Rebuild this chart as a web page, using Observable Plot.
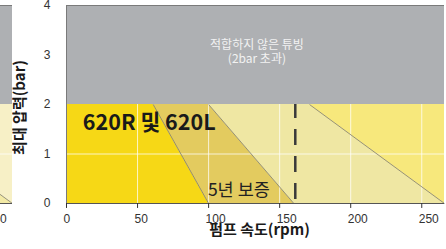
<!DOCTYPE html>
<html>
<head>
<meta charset="utf-8">
<script src="https://cdn.jsdelivr.net/npm/d3@7"></script>
<script src="https://cdn.jsdelivr.net/npm/@observablehq/plot@0.6"></script>
<style>
  html, body { margin: 0; padding: 0; background: #fff; }
  #wrap { position: relative; width: 446px; height: 249px; overflow: hidden; }
  #main { position: absolute; left: 0; top: 0; }
  #frag { position: absolute; left: 0; top: 0; width: 12px; height: 249px; overflow: hidden; }
  #frag svg { margin-left: -432px; max-width: none !important; width: 446px !important; height: 249px !important; }
</style>
</head>
<body>
<div id="wrap"><div id="main"></div><div id="frag"></div></div>
<script>
// ---- data ----
const xTicks = [0, 50, 100, 150, 200, 250];
const yTicks = [0, 1, 2, 3, 4];
const xMax = 266;            // right end of the speed axis (rpm)
const yMax = 4;              // top of the pressure axis (bar)
const tubingLimit = 2;       // max pressure for suitable tubing (bar)
const warrantySpeed = 161;   // dashed line (rpm)
// region boundaries: speed at 0 bar and at 2 bar
const boundaryAt0 = [0, 100, 160, 266, 266];
const boundaryAtLimit = [0, 61, 100, 171, 266];
const mainFills = ["#f6d816", "#e3cb5f", "#efe7a3", "#f7e87c"];
const fragFills = ["#f3eaa6", "#f3eaa6", "#f3eaa6", "#f7f0c6"];
const grayLabel = "적합하지 않은 튜빙\n(2bar 초과)";
const modelLabel = "620R 및 620L";
const warrantyLabel = "5년 보증";
const xTitle = "펌프 속도(rpm)";
const yTitle = "최대 압력(bar)";

const KR = "'Noto Sans CJK KR', 'Noto Sans', sans-serif";
const NUM = "'Liberation Sans', Arial, sans-serif";

function makeChart(fills, withText) {
  const marks = [];
  marks.push(Plot.rect([{x1: 0, x2: xMax, y1: tubingLimit, y2: yMax}],
    {x1: "x1", x2: "x2", y1: "y1", y2: "y2", fill: "#aeb0b3"}));
  for (let i = 0; i < fills.length; i++) {
    const d = [
      {y: 0, x1: boundaryAt0[i], x2: boundaryAt0[i + 1]},
      {y: tubingLimit, x1: boundaryAtLimit[i], x2: boundaryAtLimit[i + 1]}
    ];
    marks.push(Plot.areaX(d, {y: "y", x1: "x1", x2: "x2", fill: fills[i]}));
  }
  marks.push(Plot.ruleX(xTicks.filter(t => t > 0), {y1: 0, y2: tubingLimit, stroke: "#fff", strokeOpacity: 0.75, strokeWidth: 1}));
  marks.push(Plot.ruleY(yTicks.filter(t => t > 0 && t < tubingLimit), {x1: 0, x2: xMax, stroke: "#fff", strokeOpacity: 0.75, strokeWidth: 1}));
  const links = [1, 2, 3].map(i => ({x1: boundaryAt0[i], y1: 0, x2: boundaryAtLimit[i], y2: tubingLimit}));
  marks.push(Plot.link(links, {x1: "x1", y1: "y1", x2: "x2", y2: "y2", stroke: "#7d7a66", strokeWidth: 0.8}));
  marks.push(Plot.ruleY([yMax], {x1: 0, x2: xMax, stroke: "#7a7a7a", strokeWidth: 1}));
  marks.push(Plot.ruleX([0], {y1: 0, y2: yMax, stroke: "#7a7a7a", strokeWidth: 1}));
  marks.push(Plot.ruleY([0], {x1: 0, x2: xMax, stroke: "#555", strokeWidth: 1}));
  marks.push(Plot.ruleX(xTicks, {y1: 0, y2: -0.1, stroke: "#333", strokeWidth: 1}));
  marks.push(Plot.axisX({ticks: xTicks, tickSize: 0, tickPadding: 11, textAnchor: "start", dx: -3, label: null,
    tickFormat: d3.format("d"), fontSize: 12, fill: "#333", fontFamily: NUM}));
  marks.push(Plot.axisY({ticks: yTicks, tickSize: 0, tickPadding: 16, label: null,
    tickFormat: d3.format("d"), fontSize: 12, fill: "#333", fontFamily: NUM}));
  if (withText) {
    marks.push(Plot.ruleX([warrantySpeed], {y1: 0, y2: tubingLimit, stroke: "#3a3a3a", strokeWidth: 2.5, strokeDasharray: "16,11", strokeDashoffset: -4}));
    marks.push(Plot.text([grayLabel], {x: xMax / 2 + 1, y: 3.07, text: d => d, fill: "#f2f2f2", fontSize: 12, lineHeight: 1.17, fontFamily: KR}));
    marks.push(Plot.text([modelLabel], {x: 11.5, y: 1.62, text: d => d, textAnchor: "start", fill: "#1a1a1a", fontSize: 21.5, fontWeight: "bold", fontFamily: KR}));
    marks.push(Plot.text([warrantyLabel], {x: 99.5, y: 0.27, text: d => d, textAnchor: "start", fill: "#222", fontSize: 17.5, fontFamily: KR}));
    marks.push(Plot.text([xTitle], {frameAnchor: "bottom", dx: 4, dy: 31, text: d => d, fill: "#1a1a1a", fontSize: 15, fontWeight: "bold", fontFamily: KR}));
    marks.push(Plot.text([yTitle], {x: 0, y: yMax / 2, dx: -46, dy: 3, rotate: -90, text: d => d, fill: "#1a1a1a", fontSize: 15, fontWeight: "bold", fontFamily: KR}));
  }
  return Plot.plot({
    width: 446, height: 249,
    marginLeft: 66, marginRight: 2, marginTop: 5, marginBottom: 46,
    x: {domain: [0, xMax]},
    y: {domain: [0, yMax]},
    style: {background: "transparent", overflow: "visible", maxWidth: "none"},
    marks
  });
}

document.getElementById("main").appendChild(makeChart(mainFills, true));
document.getElementById("frag").appendChild(makeChart(fragFills, false));
</script>
</body>
</html>
